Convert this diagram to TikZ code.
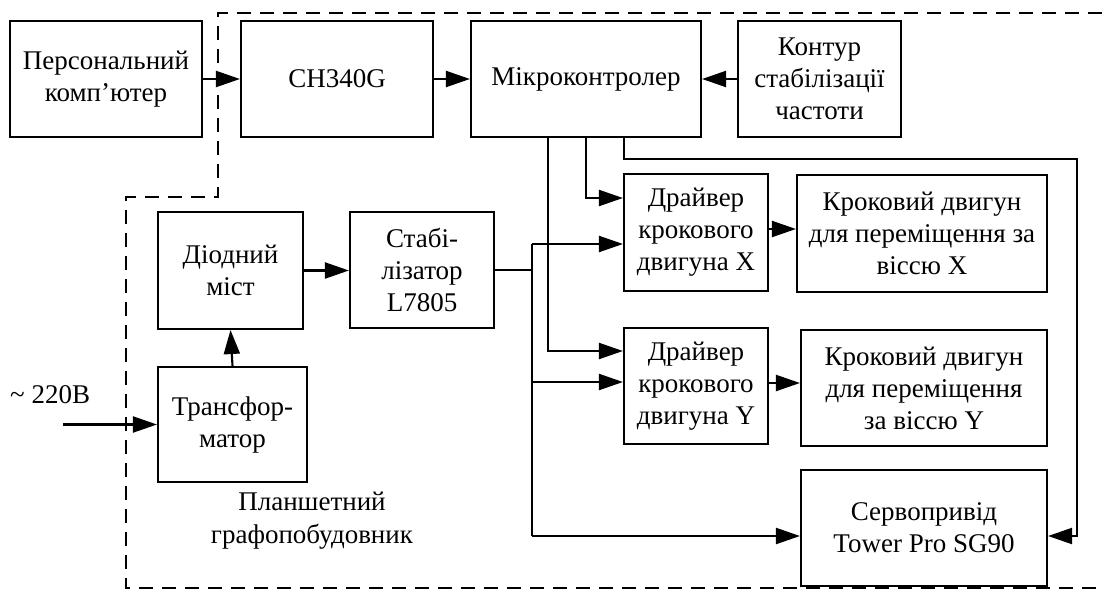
\documentclass[tikz,border=0pt]{standalone}
\usepackage{fontspec}
\setmainfont{Liberation Serif}
\usetikzlibrary{arrows.meta}
\tikzset{
  blk/.style={draw, line width=2.1pt, align=center, inner sep=0pt,
    font=\fontsize{27}{32}\selectfont},
  arr/.style={line width=2.1pt, -{Triangle[length=24pt,width=16pt]}},
  wire/.style={line width=2.1pt},
  bound/.style={line width=1.8pt, dash pattern=on 14pt off 9pt},
  lbl/.style={align=center, inner sep=0pt, font=\fontsize{27}{33}\selectfont}
}
\begin{document}
\begin{tikzpicture}[x=1pt,y=-1pt]
\useasboundingbox (0,0) rectangle (1102,589);
% boundary
\draw[bound] (1102,13) -- (218,13) -- (218,197) -- (126,197) -- (126,588) -- (1102,588);
% blocks
\node[blk, minimum width=192pt, minimum height=116pt] (pc) at (106,79) {Персональний\\комп’ютер};
\node[blk, minimum width=192pt, minimum height=116pt] (ch) at (337,79) {CH340G};
\node[blk, minimum width=230pt, minimum height=116pt] (mc) at (586,79) {Мікроконтролер};
\node[blk, minimum width=163pt, minimum height=116pt] (kon) at (819.5,79) {Контур\\стабілізації\\частоти};
\node[blk, minimum width=144pt, minimum height=117pt] (drx) at (696,232.5) {Драйвер\\крокового\\двигуна X};
\node[blk, minimum width=250pt, minimum height=117pt] (krx) at (922,233.5) {Кроковий двигун\\для переміщення за\\віссю X};
\node[blk, minimum width=144pt, minimum height=116pt] (dry) at (696,386) {Драйвер\\крокового\\двигуна Y};
\node[blk, minimum width=246pt, minimum height=116pt] (kry) at (924,388) {Кроковий двигун\\для переміщення\\за віссю Y};
\node[blk, minimum width=246pt, minimum height=116pt] (srv) at (924,528) {Сервопривід\\Tower Pro SG90};
\node[blk, minimum width=145pt, minimum height=117pt] (dio) at (230.5,270.5) {Діодний\\міст};
\node[blk, minimum width=144pt, minimum height=116pt] (stab) at (422,270) {Стабі-\\лізатор\\L7805};
\node[blk, minimum width=149pt, minimum height=115pt] (tr) at (232.5,424.5) {Трансфор-\\матор};
% labels
\node[lbl, anchor=west] (v220) at (10,395) {\textasciitilde{} 220В};
\node[lbl] (plot) at (312,521) {Планшетний\\графопобудовник};
% connectors
\coordinate (in220) at (63,424.5);
\draw[arr] (in220) -- (tr.west);
\draw[arr] (tr.north) -- (dio.south);
\draw[arr] (dio.east) -- (dio.east -| stab.west);
\draw[arr] (pc.east) -- (ch.west);
\draw[arr] (ch.east) -- (mc.west);
\draw[arr] (kon.west) -- (mc.east);
\draw[arr] ([xshift=-38pt]mc.south) |- (dry.west |- 0,351);
\draw[arr] (mc.south) |- (drx.west |- 0,198);
\coordinate (rc) at (1077,159);
\draw[arr] ([xshift=38pt]mc.south) |- (rc) |- (srv.east |- 0,536);
\draw[arr] (drx.east |- 0,229) -- (krx.west |- 0,229);
\draw[arr] (dry.east |- 0,383) -- (kry.west |- 0,383);
% power bus
\coordinate (bt) at (532,244);
\coordinate (bb) at (532,536);
\draw[wire] (bt) -- (bb);
\draw[wire] (stab.east) -- (stab.east -| bt);
\draw[arr] (bt) -- (bt -| drx.west);
\draw[arr] (bt |- 0,382) -- (dry.west |- 0,382);
\draw[arr] (bb) -- (bb -| srv.west);
\end{tikzpicture}
\end{document}
